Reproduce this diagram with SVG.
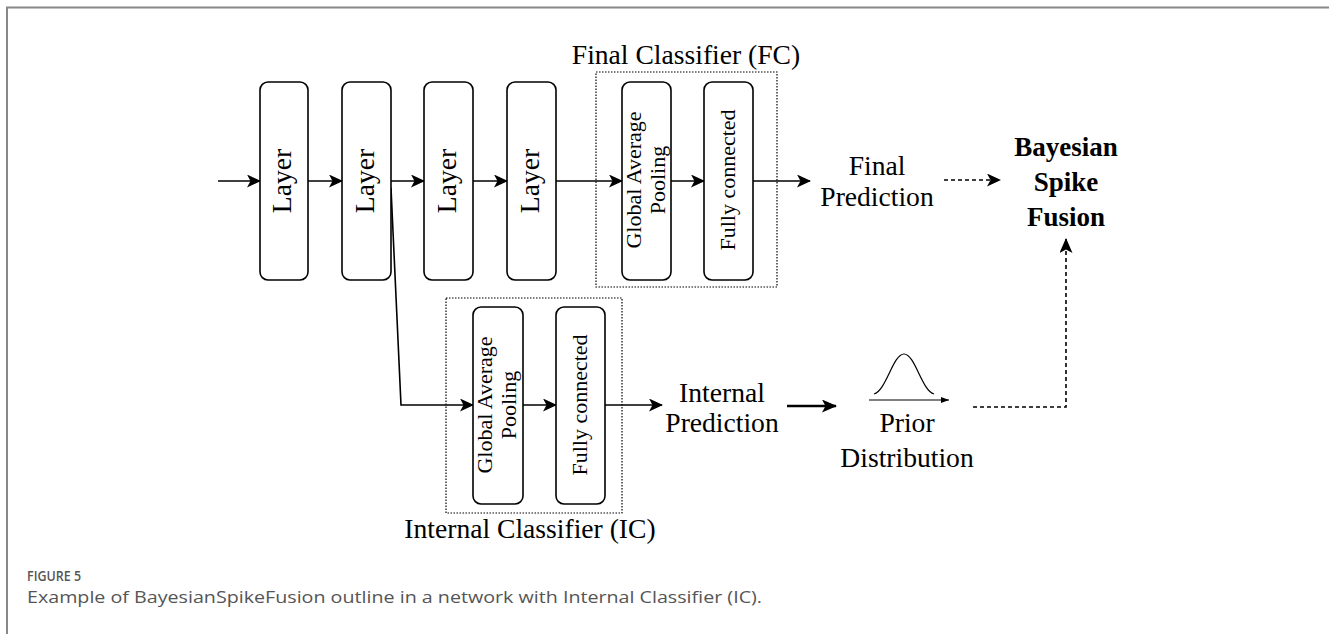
<svg xmlns="http://www.w3.org/2000/svg" width="1329" height="634" viewBox="0 0 1329 634">
<defs>
<style>
.box{fill:#fff;stroke:#000;stroke-width:1.6}
.grp{fill:none;stroke:#000;stroke-width:1.2;stroke-dasharray:1.5,1.5}
.t{font-family:"Liberation Serif","Times New Roman",serif;font-size:27.6px;fill:#000}
.ts{font-family:"Liberation Serif","Times New Roman",serif;font-size:22px;fill:#000}
.tb{font-family:"Liberation Serif","Times New Roman",serif;font-size:27px;font-weight:bold;fill:#000}
.ln{fill:none;stroke:#000;stroke-width:1.6}
.dash{fill:none;stroke:#000;stroke-width:1.6;stroke-dasharray:4,3}
.cap{font-family:"Open Sans","Liberation Sans",sans-serif;fill:#555}
</style>
<marker id="ah" viewBox="0 0 14 13" refX="13" refY="6.5" markerWidth="14" markerHeight="13" markerUnits="userSpaceOnUse" orient="auto">
<path d="M0,0 L14,6.5 L0,13 L3.5,6.5 z" fill="#000"/>
</marker>
<marker id="ahb" viewBox="0 0 15 13" refX="14" refY="6.5" markerWidth="15" markerHeight="13" markerUnits="userSpaceOnUse" orient="auto">
<path d="M0,0 L15,6.5 L0,13 L3.5,6.5 z" fill="#000"/>
</marker>
<marker id="ahs" viewBox="0 0 8 6" refX="8" refY="3" markerWidth="8" markerHeight="6" markerUnits="userSpaceOnUse" orient="auto">
<path d="M0,0 L8,3 L0,6 z" fill="#000"/>
</marker>
</defs>
<rect x="0" y="0" width="1329" height="634" fill="#fff"/>
<path d="M7,634 L7,7.5 L1329,7.5" fill="none" stroke="#888" stroke-width="2"/>

<g id="fc-group">
<rect class="grp" x="596" y="72" width="181" height="215"/>
<text class="t" x="686" y="64" text-anchor="middle">Final Classifier (FC)</text>
</g>
<g id="ic-group">
<rect class="grp" x="446" y="298" width="176" height="215"/>
<text class="t" x="530" y="538" text-anchor="middle">Internal Classifier (IC)</text>
</g>

<g id="connectors">
<line class="ln" x1="218" y1="181" x2="260" y2="181" marker-end="url(#ah)"/>
<line class="ln" x1="308" y1="181" x2="342" y2="181" marker-end="url(#ah)"/>
<line class="ln" x1="391" y1="181" x2="424" y2="181" marker-end="url(#ah)"/>
<line class="ln" x1="473" y1="181" x2="507" y2="181" marker-end="url(#ah)"/>
<line class="ln" x1="556" y1="181" x2="622" y2="181" marker-end="url(#ah)"/>
<line class="ln" x1="671" y1="181" x2="704" y2="181" marker-end="url(#ah)"/>
<line class="ln" x1="753" y1="181" x2="810" y2="181" marker-end="url(#ah)"/>
<polyline class="ln" points="391,188 401,405 473,405" marker-end="url(#ah)"/>
<line class="ln" x1="523" y1="405" x2="556" y2="405" marker-end="url(#ah)"/>
<line class="ln" x1="605" y1="405" x2="662" y2="405" marker-end="url(#ah)"/>
<line x1="787" y1="406" x2="836" y2="406" stroke="#000" stroke-width="2.6" marker-end="url(#ahb)"/>
<line class="dash" x1="944" y1="180" x2="1000" y2="180" marker-end="url(#ah)"/>
<polyline class="dash" points="973,407 1066,407 1066,239" marker-end="url(#ahb)"/>
</g>

<g id="layer1">
<rect class="box" x="260" y="82" width="48" height="198" rx="8"/>
<text class="t" transform="translate(291,181) rotate(-90)" text-anchor="middle">Layer</text>
</g>
<g id="layer2">
<rect class="box" x="342" y="82" width="49" height="198" rx="8"/>
<text class="t" transform="translate(373.5,181) rotate(-90)" text-anchor="middle">Layer</text>
</g>
<g id="layer3">
<rect class="box" x="424" y="82" width="49" height="198" rx="8"/>
<text class="t" transform="translate(455.5,181) rotate(-90)" text-anchor="middle">Layer</text>
</g>
<g id="layer4">
<rect class="box" x="507" y="82" width="49" height="198" rx="8"/>
<text class="t" transform="translate(538.5,181) rotate(-90)" text-anchor="middle">Layer</text>
</g>
<g id="fc-gap">
<rect class="box" x="622" y="82" width="49" height="198" rx="8"/>
<text class="ts" transform="translate(640.5,180) rotate(-90)" text-anchor="middle">Global Average</text>
<text class="ts" transform="translate(665,180) rotate(-90)" text-anchor="middle">Pooling</text>
</g>
<g id="fc-fc">
<rect class="box" x="704" y="82" width="49" height="198" rx="8"/>
<text class="ts" transform="translate(734.5,180) rotate(-90)" text-anchor="middle">Fully connected</text>
</g>
<g id="ic-gap">
<rect class="box" x="473" y="307" width="50" height="197" rx="8"/>
<text class="ts" transform="translate(491.5,405) rotate(-90)" text-anchor="middle">Global Average</text>
<text class="ts" transform="translate(516,405) rotate(-90)" text-anchor="middle">Pooling</text>
</g>
<g id="ic-fc">
<rect class="box" x="556" y="307" width="49" height="197" rx="8"/>
<text class="ts" transform="translate(587,405) rotate(-90)" text-anchor="middle">Fully connected</text>
</g>

<g id="final-prediction">
<text class="t" x="877" y="175" text-anchor="middle">Final</text>
<text class="t" x="877" y="206" text-anchor="middle">Prediction</text>
</g>
<g id="bayesian-spike-fusion">
<text class="tb" x="1066" y="156" text-anchor="middle">Bayesian</text>
<text class="tb" x="1066" y="191" text-anchor="middle">Spike</text>
<text class="tb" x="1066" y="226" text-anchor="middle">Fusion</text>
</g>
<g id="internal-prediction">
<text class="t" x="722" y="402" text-anchor="middle">Internal</text>
<text class="t" x="722" y="432" text-anchor="middle">Prediction</text>
</g>
<g id="prior-distribution">
<line x1="869" y1="400" x2="949" y2="400" stroke="#000" stroke-width="1.2" marker-end="url(#ahs)"/>
<path d="M874,394 C886,391 893,354 904,354 C915,354 922,391 934,394" fill="none" stroke="#000" stroke-width="1.2"/>
<text class="t" x="907" y="432" text-anchor="middle">Prior</text>
<text class="t" x="907" y="467" text-anchor="middle">Distribution</text>
</g>

<g id="caption">
<text class="cap" x="27" y="581" font-size="13.5" font-weight="600" textLength="54" lengthAdjust="spacingAndGlyphs">FIGURE 5</text>
<text class="cap" x="27" y="603" font-size="17" textLength="735" lengthAdjust="spacingAndGlyphs">Example of BayesianSpikeFusion outline in a network with Internal Classifier (IC).</text>
</g>
</svg>
